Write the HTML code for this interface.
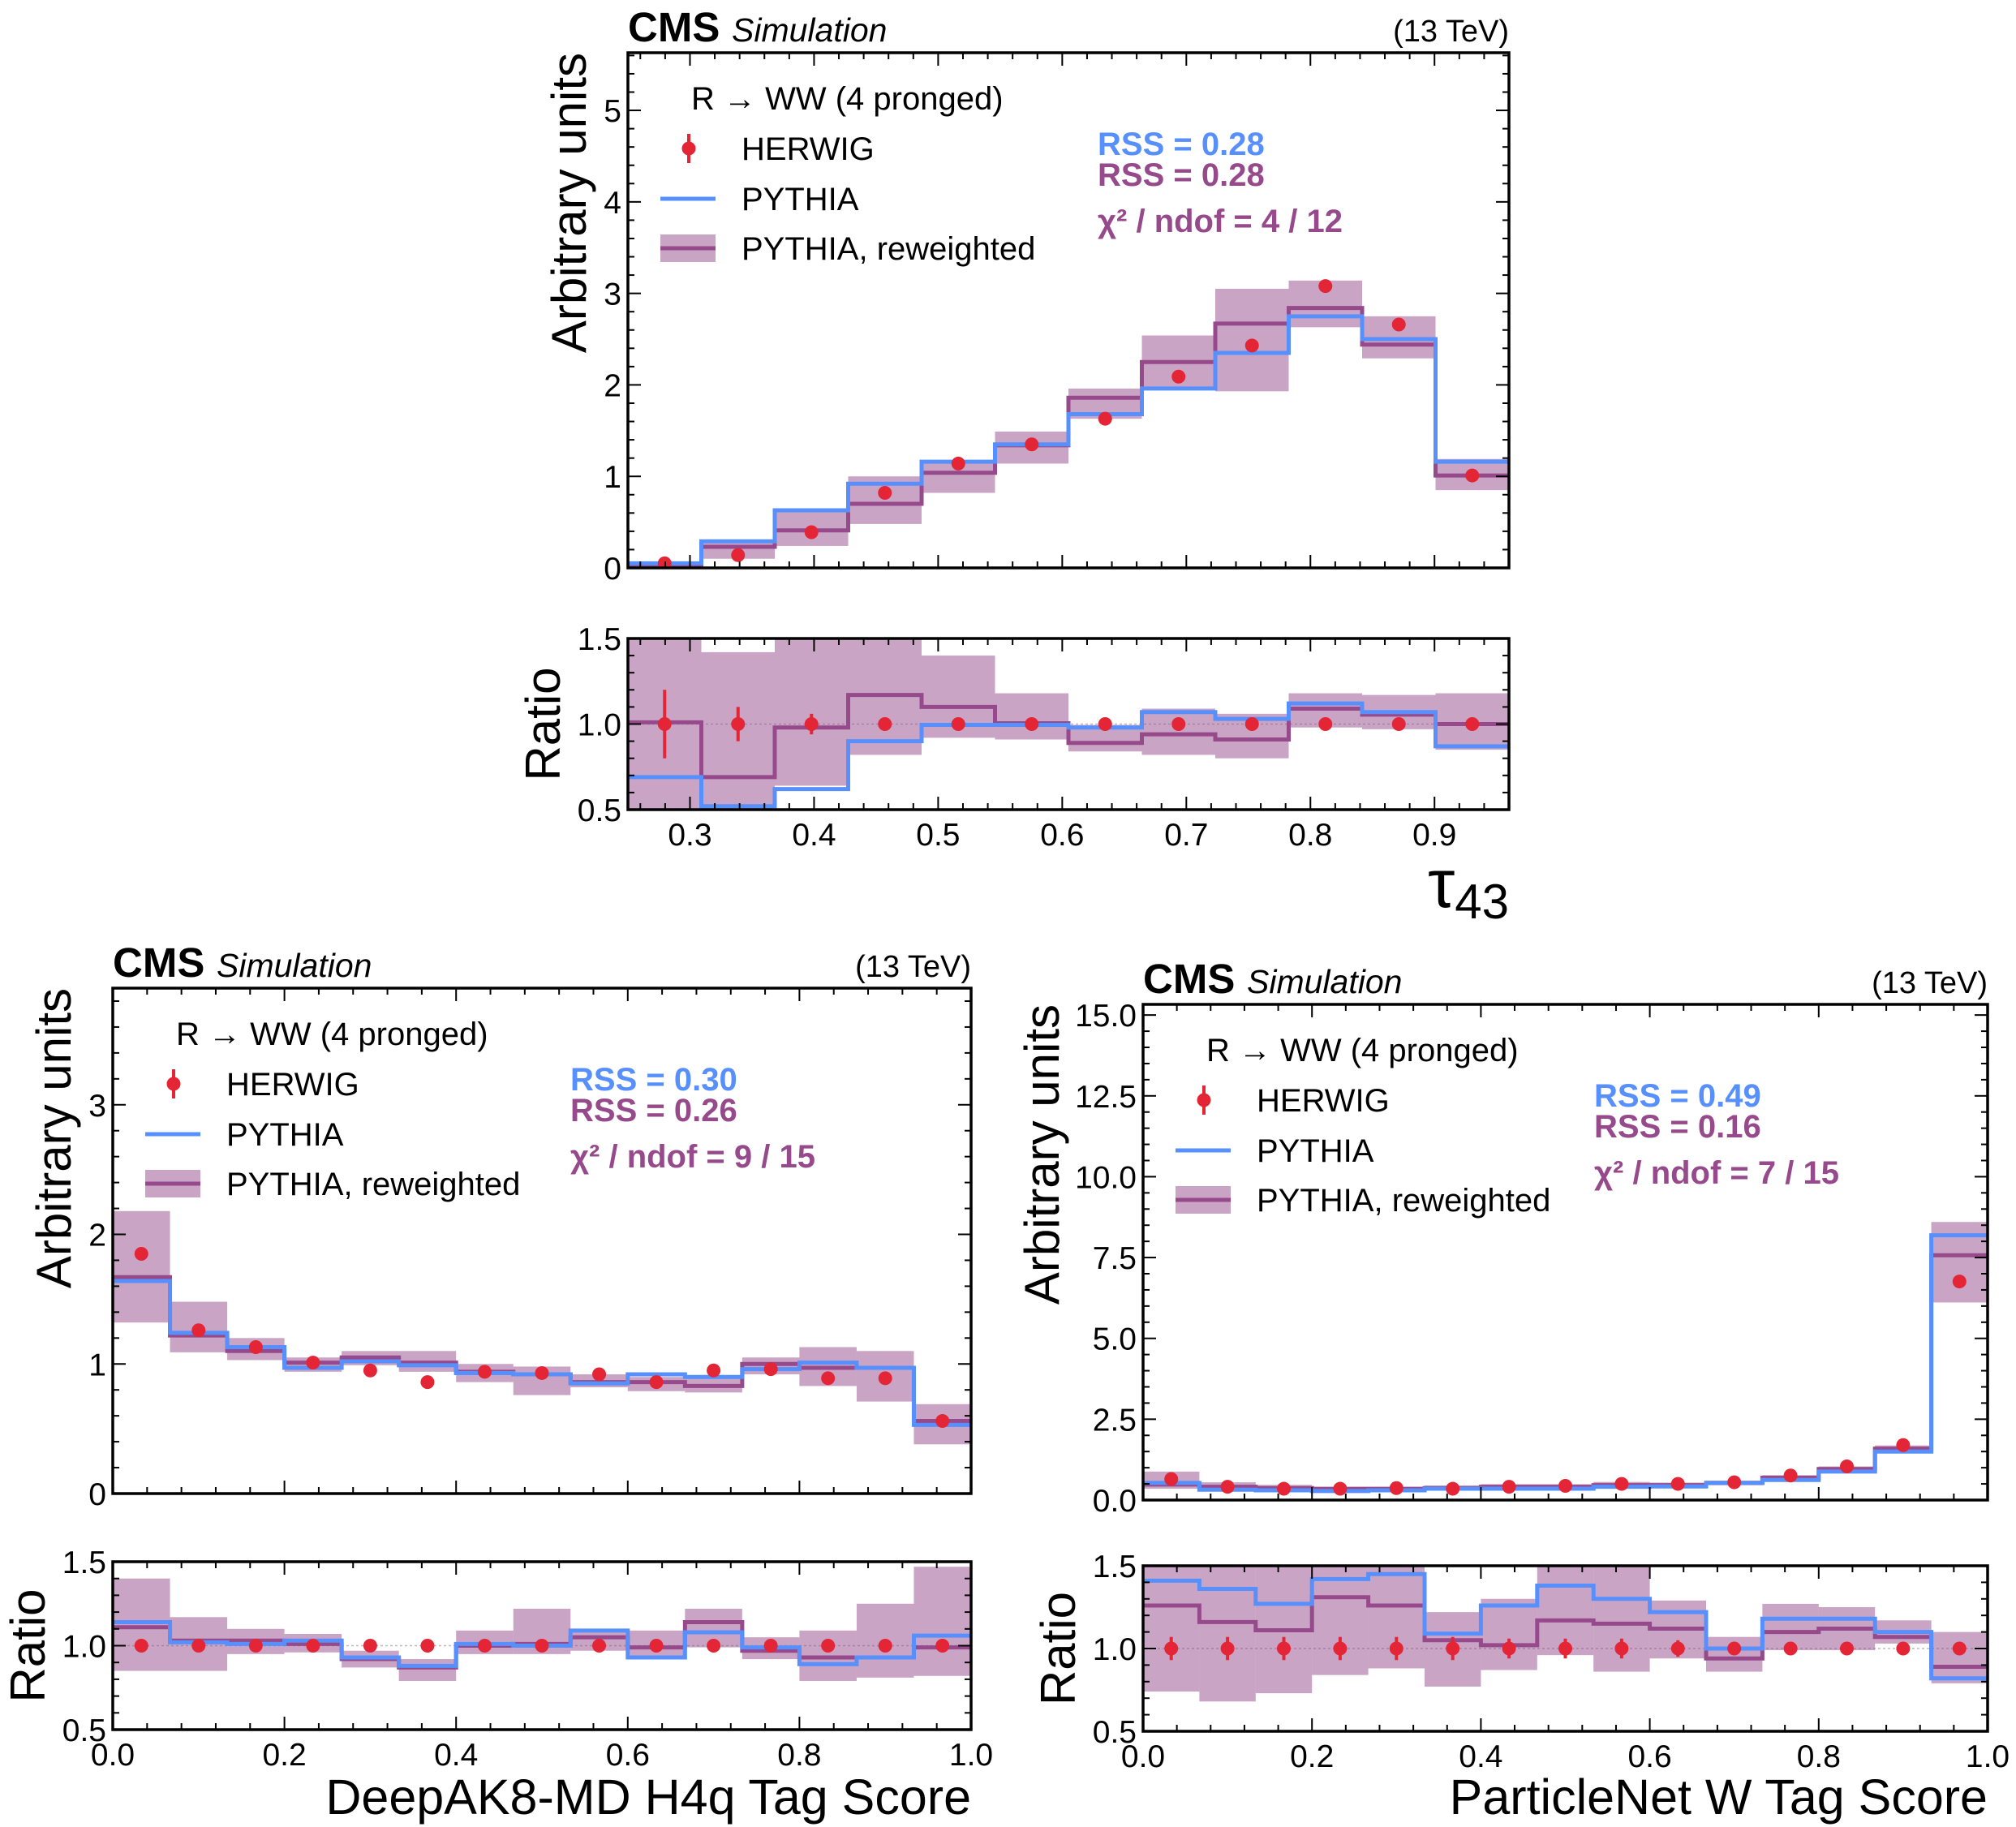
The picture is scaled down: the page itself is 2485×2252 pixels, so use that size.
<!DOCTYPE html>
<html><head><meta charset="utf-8"><style>
html,body{margin:0;padding:0;background:#fff;}
svg{display:block;font-family:"Liberation Sans","DejaVu Sans",sans-serif;}
</style></head><body>
<svg id="fig" width="2485" height="2252" viewBox="0 0 2485 2252" xmlns="http://www.w3.org/2000/svg"></svg>
<script>
// ---------- Panel A: tau43 ----------
const tauEdgesMin = 0.25, tauEdgesMax = 0.96, tauNBins = 12;
const tauHerwig = [0.05,0.14,0.39,0.82,1.14,1.35,1.63,2.09,2.43,3.08,2.66,1.01];
const tauPythia = [0.05,0.29,0.63,0.92,1.16,1.35,1.68,1.96,2.35,2.75,2.50,1.16];
const tauRew = [0.03,0.23,0.41,0.70,1.04,1.34,1.86,2.25,2.67,2.84,2.44,1.01];
const tauBandHi = [0.05,0.31,0.61,1.00,1.16,1.49,1.96,2.54,3.05,3.14,2.75,1.19];
const tauBandLo = [0.01,0.10,0.24,0.48,0.82,1.14,1.63,1.94,1.93,2.63,2.29,0.85];
const tauRatioErr = [0.2,0.1,0.06,0.03,0.01,0.01,0.01,0.01,0.01,0.01,0.01,0.01];
const tauRatioPythia = [0.69,0.52,0.62,0.90,0.995,0.995,0.98,1.07,1.03,1.12,1.07,0.87];
const tauRatioRew = [1.01,0.69,0.98,1.17,1.10,1.005,0.89,0.94,0.91,1.09,1.055,1.0];
const tauRatioBandHi = [1.6,1.42,1.6,1.6,1.40,1.18,0.995,1.09,1.06,1.18,1.17,1.18];
const tauRatioBandLo = [0.4,0.4,0.64,0.82,0.92,0.91,0.84,0.82,0.80,0.98,0.97,0.85];
const tauXTicks = [0.3,0.4,0.5,0.6,0.7,0.8,0.9];
const tauYTicks = [0,1,2,3,4,5];
const tauYTickLabels = ["0","1","2","3","4","5"];
const tauText = ["RSS = 0.28","RSS = 0.28","χ² / ndof = 4 / 12"];

// ---------- Panel B: DeepAK8 ----------
const dakHerwig = [1.85,1.26,1.13,1.01,0.95,0.86,0.94,0.93,0.92,0.86,0.95,0.96,0.89,0.89,0.56];
const dakPythia = [1.64,1.24,1.13,0.97,1.02,0.99,0.93,0.92,0.85,0.92,0.90,0.96,1.01,0.97,0.53];
const dakRew = [1.67,1.22,1.10,1.01,1.05,1.01,0.94,0.92,0.86,0.86,0.83,1.00,0.97,0.97,0.56];
const dakBandHi = [2.18,1.48,1.20,1.05,1.10,1.10,1.00,0.98,0.92,0.90,0.91,1.05,1.13,1.10,0.69];
const dakBandLo = [1.32,1.09,1.03,0.94,0.99,0.94,0.86,0.76,0.82,0.79,0.78,0.92,0.83,0.71,0.38];
const dakRatioErr = [0.02,0.02,0.02,0.02,0.02,0.02,0.02,0.02,0.02,0.02,0.02,0.02,0.02,0.02,0.04];
const dakRatioPythia = [1.14,1.02,1.01,1.03,0.93,0.88,1.01,1.0,1.09,0.93,1.08,0.99,0.89,0.93,1.06];
const dakRatioRew = [1.11,1.03,1.03,1.01,0.92,0.87,1.0,1.01,1.05,0.99,1.14,0.97,0.93,0.93,0.99];
const dakRatioBandHi = [1.40,1.17,1.10,1.07,0.97,0.92,1.09,1.22,1.10,1.09,1.22,1.05,1.09,1.25,1.47];
const dakRatioBandLo = [0.85,0.85,0.95,0.96,0.87,0.79,0.95,0.95,0.97,0.93,0.99,0.92,0.79,0.81,0.82];
const scoreXTicks = [0,0.2,0.4,0.6,0.8,1.0];
const dakYTicks = [0,1,2,3];
const dakYTickLabels = ["0","1","2","3"];
const dakText = ["RSS = 0.30","RSS = 0.26","χ² / ndof = 9 / 15"];

// ---------- Panel C: ParticleNet ----------
const pnHerwig = [0.65,0.41,0.35,0.35,0.37,0.35,0.41,0.44,0.50,0.50,0.55,0.76,1.04,1.70,6.76];
const pnPythia = [0.53,0.32,0.30,0.28,0.30,0.35,0.35,0.35,0.41,0.42,0.53,0.62,0.88,1.50,8.19];
const pnRew = [0.48,0.41,0.37,0.34,0.34,0.37,0.41,0.41,0.46,0.46,0.53,0.69,0.96,1.59,7.57];
const pnBandHi = [0.88,0.55,0.47,0.42,0.42,0.45,0.49,0.49,0.56,0.54,0.60,0.77,1.04,1.69,8.60];
const pnBandLo = [0.35,0.30,0.28,0.26,0.27,0.29,0.33,0.34,0.38,0.40,0.46,0.61,0.88,1.49,6.11];
const pnRatioErr = [0.07,0.07,0.07,0.07,0.07,0.07,0.06,0.06,0.06,0.05,0.04,0.03,0.02,0.02,0.02];
const pnRatioPythia = [1.41,1.36,1.27,1.42,1.45,1.09,1.26,1.38,1.30,1.22,1.0,1.18,1.18,1.10,0.82];
const pnRatioRew = [1.26,1.16,1.11,1.31,1.26,1.05,1.02,1.17,1.15,1.12,0.94,1.10,1.12,1.07,0.89];
const pnRatioBandHi = [1.6,1.6,1.6,1.6,1.6,1.22,1.30,1.6,1.6,1.29,1.07,1.27,1.25,1.17,1.10];
const pnRatioBandLo = [0.74,0.68,0.73,0.84,0.88,0.77,0.87,0.96,0.86,0.94,0.86,0.99,0.99,1.03,0.79];
const pnYTicks = [0,2.5,5,7.5,10,12.5,15];
const pnYTickLabels = ["0.0","2.5","5.0","7.5","10.0","12.5","15.0"];
const pnText = ["RSS = 0.49","RSS = 0.16","χ² / ndof = 7 / 15"];

const ratioYTicks = [0.5,1.0,1.5];
const ratioYTickLabels = ["0.5","1.0","1.5"];

const NS = "http://www.w3.org/2000/svg";
const svg = document.getElementById('fig');
const BLUE="#5790fc", PURPLE="#964a8b", RED="#e42536", BAND="rgba(150,74,139,0.5)";
function mk(tag, attrs, parent){const e=document.createElementNS(NS,tag);for(const k in attrs)e.setAttribute(k,attrs[k]);(parent||svg).appendChild(e);return e;}
function txt(parent,x,y,s,size,opts){opts=opts||{};const t=mk('text',{x:x,y:y,'font-size':size,fill:opts.fill||'#000','text-anchor':opts.anchor||'start'},parent);if(opts.weight)t.setAttribute('font-weight',opts.weight);if(opts.style)t.setAttribute('font-style',opts.style);if(opts.transform)t.setAttribute('transform',opts.transform);t.textContent=s;return t;}

function panel(cfg){
  const g = mk('g',{});
  
  
  const n = cfg.herwig.length;
  const xs = v => cfg.x0 + (v - cfg.xmin)/(cfg.xmax-cfg.xmin)*(cfg.x1-cfg.x0);
  const ys = v => cfg.mb - v/cfg.ymax*(cfg.mb-cfg.mt);
  const yr = v => cfg.rb - (v-0.5)/1.0*(cfg.rb-cfg.rt);
  const edge = i => cfg.xmin + i*(cfg.xmax-cfg.xmin)/n;
  const clipM = 'clipM'+cfg.id, clipR='clipR'+cfg.id;
  const defs = mk('defs',{},g);
  const c1=mk('clipPath',{id:clipM},defs); mk('rect',{x:cfg.x0,y:cfg.mt,width:cfg.x1-cfg.x0,height:cfg.mb-cfg.mt},c1);
  const c2=mk('clipPath',{id:clipR},defs); mk('rect',{x:cfg.x0,y:cfg.rt,width:cfg.x1-cfg.x0,height:cfg.rb-cfg.rt},c2);

  function drawSet(sc, herwig, err, pythia, rew, lo, hi, clip, ptName){
    const gg = mk('g',{'clip-path':'url(#'+clip+')'},g);
    for(let i=0;i<n;i++){
      const b = mk('rect',{x:xs(edge(i)),y:sc(hi[i]),width:xs(edge(i+1))-xs(edge(i)),height:sc(lo[i])-sc(hi[i]),fill:BAND},gg);
      
      
    }
    function step(vals,color,nm){
      let d='M'+xs(edge(0))+' '+sc(vals[0]);
      for(let i=0;i<n;i++){d+=' L'+xs(edge(i))+' '+sc(vals[i])+' L'+xs(edge(i+1))+' '+sc(vals[i]);}
      const p=mk('path',{d:d,fill:'none',stroke:color,'stroke-width':5},gg);
      
      
    }
    step(rew,PURPLE,ptName+'-pythia-reweighted-line');
    step(pythia,BLUE,ptName+'-pythia-line');
    for(let i=0;i<n;i++){
      const cx=(xs(edge(i))+xs(edge(i+1)))/2;
      if(err){ mk('line',{x1:cx,x2:cx,y1:sc(herwig[i]-err[i]),y2:sc(herwig[i]+err[i]),stroke:RED,'stroke-width':4},gg); }
      const c=mk('circle',{cx:cx,cy:sc(herwig[i]),r:8.5,fill:RED},gg);
      
      
    }
  }
  drawSet(ys, cfg.herwig, null, cfg.pythia, cfg.rew, cfg.lo, cfg.hi, clipM, 'main');
  mk('line',{x1:cfg.x0,x2:cfg.x1,y1:yr(1),y2:yr(1),stroke:'#bbb','stroke-width':1.5,'stroke-dasharray':'3 3'},g);
  const ones = cfg.herwig.map(()=>1);
  drawSet(yr, ones, cfg.rerr, cfg.rpythia, cfg.rrew, cfg.rlo, cfg.rhi, clipR, 'ratio');

  [[cfg.mt,cfg.mb],[cfg.rt,cfg.rb]].forEach(([t,b],k)=>{
    const fr=mk('rect',{x:cfg.x0,y:t,width:cfg.x1-cfg.x0,height:b-t,fill:'none',stroke:'#000','stroke-width':3.5},g);
    
    
    const xmj=cfg.xticks, st=(xmj[1]-xmj[0])/5;
    for(let v=xmj[0]-10*st; v<=cfg.xmax+1e-9; v+=st){
      if(v<cfg.xmin-1e-9) continue;
      const major = xmj.some(m=>Math.abs(m-v)<1e-6);
      const L = major?16:8, x=xs(v);
      mk('line',{x1:x,x2:x,y1:b,y2:b-L,stroke:'#000','stroke-width':2},g);
      mk('line',{x1:x,x2:x,y1:t,y2:t+L,stroke:'#000','stroke-width':2},g);
    }
  });
  const ymj=cfg.yticks, yst=(ymj[1]-ymj[0])/5;
  for(let v=0; v<=cfg.ymax+1e-9; v+=yst){
    const major = ymj.some(m=>Math.abs(m-v)<1e-6), L=major?16:8, y=ys(v);
    mk('line',{x1:cfg.x0,x2:cfg.x0+L,y1:y,y2:y,stroke:'#000','stroke-width':2},g);
    mk('line',{x1:cfg.x1,x2:cfg.x1-L,y1:y,y2:y,stroke:'#000','stroke-width':2},g);
  }
  ymj.forEach((v,i)=>{const t=txt(g,cfg.x0-8,ys(v)+14,cfg.yticklabels[i],39,{anchor:'end'});});
  for(let v=0.5; v<=1.5+1e-9; v+=0.1){
    const major = ratioYTicks.some(m=>Math.abs(m-v)<1e-6), L=major?16:8, y=yr(v);
    mk('line',{x1:cfg.x0,x2:cfg.x0+L,y1:y,y2:y,stroke:'#000','stroke-width':2},g);
    mk('line',{x1:cfg.x1,x2:cfg.x1-L,y1:y,y2:y,stroke:'#000','stroke-width':2},g);
  }
  ratioYTicks.forEach((v,i)=>{const t=txt(g,cfg.x0-8,yr(v)+14,ratioYTickLabels[i],39,{anchor:'end'});});
  cfg.xticks.forEach(v=>{const t=txt(g,xs(v),cfg.rb+44,v.toFixed(1),39,{anchor:'middle'});});

  let t=txt(g,cfg.x0,cfg.mt-14,'CMS',51,{weight:'bold'});  
  t=txt(g,cfg.x0+128,cfg.mt-14,'Simulation',41,{style:'italic'});  
  t=txt(g,cfg.x1,cfg.mt-14,'(13 TeV)',38,{anchor:'end'});  
  t=txt(g,0,0,'Arbitrary units',60,{anchor:'end',transform:'translate('+(cfg.x0+cfg.ylabOff)+','+cfg.mt+') rotate(-90)'});  
  t=txt(g,0,0,'Ratio',60,{anchor:'middle',transform:'translate('+(cfg.x0-84)+','+((cfg.rt+cfg.rb)/2)+') rotate(-90)'});  
  t=txt(g,cfg.x1,cfg.xlabY,cfg.xlabel,cfg.xlabSize,{anchor:'end'});  
  if(cfg.sub){const ts=mk('tspan',{'font-size':60,dy:14},t);ts.textContent=cfg.sub;}

  const lg=mk('g',{},g);  
  const lx=cfg.x0, lt=cfg.mt;
  t=txt(lg,lx+78,lt+70,'R  → WW (4 pronged)',40); t.setAttribute('xml:space','preserve');  
  mk('line',{x1:lx+75,x2:lx+75,y1:lt+100,y2:lt+136,stroke:RED,'stroke-width':4},lg);
  mk('circle',{cx:lx+75,cy:lt+118,r:8.5,fill:RED},lg);
  t=txt(lg,lx+140,lt+132,'HERWIG',40);  
  mk('line',{x1:lx+40,x2:lx+108,y1:lt+180,y2:lt+180,stroke:BLUE,'stroke-width':5},lg);
  t=txt(lg,lx+140,lt+194,'PYTHIA',40);  
  mk('rect',{x:lx+40,y:lt+224,width:68,height:34,fill:BAND},lg);
  mk('line',{x1:lx+40,x2:lx+108,y1:lt+241,y2:lt+241,stroke:PURPLE,'stroke-width':5},lg);
  t=txt(lg,lx+140,lt+255,'PYTHIA, reweighted',40);  
  t=txt(g,lx+cfg.rssX,lt+126,cfg.text[0],40,{fill:BLUE,weight:'bold'});  
  t=txt(g,lx+cfg.rssX,lt+164,cfg.text[1],40,{fill:PURPLE,weight:'bold'});  
  t=txt(g,lx+cfg.rssX,lt+221,cfg.text[2],40,{fill:PURPLE,weight:'bold'});  
}

panel({id:'A',name:'tau43-panel',x0:774,x1:1860,mt:65,mb:700,rt:787,rb:998,xmin:tauEdgesMin,xmax:tauEdgesMax,ymax:5.63,
  herwig:tauHerwig,pythia:tauPythia,rew:tauRew,lo:tauBandLo,hi:tauBandHi,rerr:tauRatioErr,rpythia:tauRatioPythia,rrew:tauRatioRew,rlo:tauRatioBandLo,rhi:tauRatioBandHi,
  xticks:tauXTicks,yticks:tauYTicks,yticklabels:tauYTickLabels,text:tauText,xlabel:'τ',sub:'43',xlabY:1118,xlabSize:84,ylabOff:-52,rssX:579});
panel({id:'B',name:'deepak8-panel',x0:139,x1:1197,mt:1218,mb:1841,rt:1925,rb:2132,xmin:0,xmax:1,ymax:3.9,
  herwig:dakHerwig,pythia:dakPythia,rew:dakRew,lo:dakBandLo,hi:dakBandHi,rerr:dakRatioErr,rpythia:dakRatioPythia,rrew:dakRatioRew,rlo:dakRatioBandLo,rhi:dakRatioBandHi,
  xticks:scoreXTicks,yticks:dakYTicks,yticklabels:dakYTickLabels,text:dakText,xlabel:'DeepAK8-MD H4q Tag Score',xlabY:2236,xlabSize:61,ylabOff:-52,rssX:564});
panel({id:'C',name:'particlenet-panel',x0:1409,x1:2450,mt:1238,mb:1849,rt:1930,rb:2134,xmin:0,xmax:1,ymax:15.33,
  herwig:pnHerwig,pythia:pnPythia,rew:pnRew,lo:pnBandLo,hi:pnBandHi,rerr:pnRatioErr,rpythia:pnRatioPythia,rrew:pnRatioRew,rlo:pnRatioBandLo,rhi:pnRatioBandHi,
  xticks:scoreXTicks,yticks:pnYTicks,yticklabels:pnYTickLabels,text:pnText,xlabel:'ParticleNet W Tag Score',xlabY:2236,xlabSize:61,ylabOff:-104,rssX:556});
</script>
</body></html>
